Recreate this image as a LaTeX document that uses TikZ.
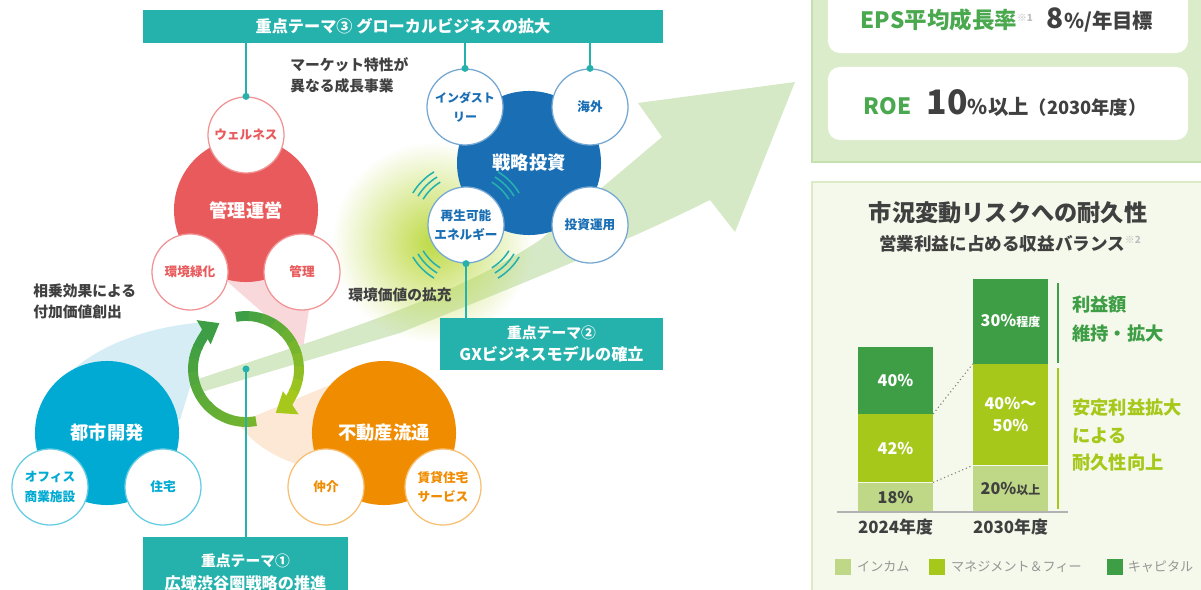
\documentclass[tikz,border=0pt]{standalone}
\usepackage{fontspec}
\setmainfont{Noto Sans CJK JP}
\usetikzlibrary{arrows.meta,calc,positioning,fadings}
\definecolor{themeColor}{RGB}{38,178,172}
\definecolor{mgmtColor}{RGB}{233,90,92}
\definecolor{mgmtLight}{RGB}{249,216,219}
\definecolor{investColor}{RGB}{25,110,180}
\definecolor{cityColor}{RGB}{0,170,210}
\definecolor{cityLight}{RGB}{214,237,246}
\definecolor{dealColor}{RGB}{240,140,0}
\definecolor{dealLight}{RGB}{252,232,212}
\definecolor{arrowColor}{RGB}{214,233,198}
\definecolor{glowColor}{RGB}{190,218,70}
\definecolor{capitalColor}{RGB}{61,158,69}
\definecolor{feeColor}{RGB}{166,200,26}
\definecolor{incomeColor}{RGB}{190,216,135}
\definecolor{textColor}{RGB}{64,64,64}
\definecolor{panelColor}{RGB}{219,236,203}
\definecolor{panelBorder}{RGB}{196,224,172}
\definecolor{chartColor}{RGB}{245,249,235}
\definecolor{chartBorder}{RGB}{220,235,198}
\definecolor{epsColor}{RGB}{74,168,78}
\definecolor{legendText}{RGB}{150,150,150}
\tikzfading[name=glowfade, inner color=transparent!0, outer color=transparent!100]
\tikzset{themebox/.style={fill=themeColor, text=white, font=\bfseries\fontsize{11.5}{16}\selectfont, align=center, inner sep=0pt}}
\tikzset{bizcircle/.style={circle, minimum size=3.6cm, inner sep=0pt, text=white, font=\bfseries\fontsize{13}{15}\selectfont}}
\tikzset{subcircle/.style={circle, fill=white, draw, line width=0.9pt, minimum size=1.9cm, inner sep=0pt, align=center, font=\bfseries\fontsize{9}{14}\selectfont}}
\tikzset{tealdot/.style={circle, fill=themeColor, minimum size=5pt, inner sep=0pt}}
\tikzset{themeline/.style={draw=themeColor, line width=0.9pt}}
\tikzset{notetext/.style={text=textColor, align=left, inner sep=0pt, font=\bfseries\fontsize{10.5}{15}\selectfont}}
\tikzset{cycleline/.style={line width=7pt}}
\tikzset{barpart/.style={minimum width=1.87cm, inner sep=0pt, text=white, align=center, font=\bfseries\fontsize{11.5}{16}\selectfont}}
\tikzset{legendbox/.style={minimum size=0.4cm, inner sep=0pt}}
\tikzset{legendtext/.style={text=legendText, inner sep=0pt, font=\fontsize{9.3}{11}\selectfont}}

\begin{document}
\begin{tikzpicture}[x=0.025cm, y=-0.025cm]
\useasboundingbox (0,0) rectangle (1201,590);
\clip (0,0) rectangle (1201,590);

% Background cones and growth arrow
\coordinate (hub) at (246,369);
\fill[mgmtLight] (303,348) -- (205,262) -- (320,240) -- cycle;
\fill[cityLight] (210,322) .. controls (150,325) and (100,345) .. (70,372) -- (180,420) -- cycle;
\fill[dealLight] (238,423) -- (330,385) -- (330,470) .. controls (290,468) and (255,448) .. (238,423) -- cycle;
\fill[arrowColor] (195,380) .. controls (330,335) and (450,300) .. (540,240) -- (662,137) -- (638,103) -- (795,82) -- (735,232) -- (710,200) .. controls (610,250) and (480,300) .. (400,333) -- (195,394) -- cycle;
\fill[glowColor, path fading=glowfade] (432,242) circle (100);

% Nodes
\node (banner3) [themebox, minimum width=13cm, minimum height=0.825cm] at (403,26.5) {重点テーマ③ グローカルビジネスの拡大};
\node (banner2) [themebox, minimum width=5.575cm, minimum height=1.3cm] at (551.5,344) {{\fontsize{10.5}{16}\selectfont 重点テーマ②}\\GXビジネスモデルの確立};
\node (banner1) [themebox, minimum width=5.125cm, minimum height=1.75cm, anchor=north] at (245.5,537) {{\fontsize{10.5}{16}\selectfont 重点テーマ①}\\広域渋谷圏戦略の推進};

\node (mgmt) [bizcircle, fill=mgmtColor] at (246,210) {管理運営};
\node (invest) [bizcircle, fill=investColor] at (529,163) {戦略投資};
\node (city) [bizcircle, fill=cityColor] at (107,433) {都市開発};
\node (deal) [bizcircle, fill=dealColor] at (384,433) {不動産流通};

\node (wellness) [subcircle, draw=mgmtColor!65, text=mgmtColor] at (246,135) {ウェルネス};
\node (greening) [subcircle, draw=mgmtColor!65, text=mgmtColor] at (190,272) {環境緑化};
\node (upkeep) [subcircle, draw=mgmtColor!65, text=mgmtColor] at (302,272) {管理};
\node (industry) [subcircle, draw=investColor!60, text=investColor, font=\bfseries\fontsize{8.5}{14}\selectfont] at (465,107) {インダスト\\リー};
\node (overseas) [subcircle, draw=investColor!60, text=investColor] at (590,107) {海外};
\node (renew) [subcircle, draw=investColor!60, text=investColor] at (466,225) {再生可能\\エネルギー};
\node (assetmgmt) [subcircle, draw=investColor!60, text=investColor] at (590,225) {投資運用};
\node (office) [subcircle, draw=cityColor!60, text=cityColor] at (50,487) {オフィス\\商業施設};
\node (housing) [subcircle, draw=cityColor!60, text=cityColor] at (163,487) {住宅};
\node (broker) [subcircle, draw=dealColor!55, text=dealColor] at (326,487) {仲介};
\node (rental) [subcircle, draw=dealColor!55, text=dealColor] at (443,487) {賃貸住宅\\サービス};

\node (market) [notetext, anchor=north west] at (290,57) {マーケット特性が\\異なる成長事業};
\node (synergy) [notetext, anchor=north west] at (33,284) {相乗効果による\\付加価値創出};
\node (envvalue) [notetext, anchor=west] at (348,295) {環境価値の拡充};

% Signal marks round the renewable energy circle
\foreach \ang in {45,135,225,315} {
  \foreach \r in {50,56,62} {
    \draw[themeColor, line width=1.1pt] ($(renew)+(\ang-14:\r)$) arc[start angle=\ang-14, end angle=\ang+14, radius=\r];
  }
}

% Cycle arrows
\foreach \i in {0,...,8} {
  \pgfmathtruncatemacro{\mix}{100-\i*11}
  \draw[cycleline, draw=capitalColor!\mix!feeColor] ($(hub)+(259+\i*14:53)$) arc[start angle=259+\i*14, end angle=274+\i*14, radius=53];
  \pgfmathtruncatemacro{\mixb}{45+\i*6}
  \draw[cycleline, draw=capitalColor!\mixb!feeColor] ($(hub)+(79+\i*14:53)$) arc[start angle=79+\i*14, end angle=94+\i*14, radius=53];
}
\draw[cycleline, feeColor, -{Triangle[width=19pt,length=13pt]}] ($(hub)+(384:53)$) arc[start angle=384, end angle=416, radius=53];
\draw[cycleline, capitalColor, -{Triangle[width=19pt,length=13pt]}] ($(hub)+(204:53)$) arc[start angle=204, end angle=240, radius=53];

% Connectors
\draw[themeline] (banner3.south -| wellness.north) -- (wellness.north) node[tealdot] {};
\draw[themeline] (banner3.south -| industry.north) -- (industry.north) node[tealdot] {};
\draw[themeline] (banner3.south -| overseas.north) -- (overseas.north) node[tealdot] {};
\draw[themeline] (renew.south) node[tealdot] {} -- (renew.south |- banner2.north);
\draw[themeline] (hub) node[tealdot] {} -- (hub |- banner1.north);

% Targets panel
\draw[panelBorder, fill=panelColor, line width=1pt] (812,-10) rectangle (1210,162);
\node (epsbox) [fill=white, rounded corners=0.3cm, minimum width=9cm, minimum height=1.85cm] at (1008,16) {};
\node (roebox) [fill=white, rounded corners=0.3cm, minimum width=9cm, minimum height=1.825cm] at (1008,103.5) {};
\node (eps) [inner sep=0pt, text=textColor, font=\bfseries\fontsize{14.5}{16}\selectfont] at (1007,20) {{\color{epsColor}\fontsize{16}{17}\selectfont EPS平均成長率}{\color{gray!50}\fontsize{7}{7}\selectfont\raisebox{1.4ex}{※1}}\hspace{10pt}{\fontsize{20}{21}\selectfont 8}\%/年目標};
\node (roe) [inner sep=0pt, text=textColor, font=\bfseries\fontsize{14.5}{16}\selectfont] at (1005,103) {{\color{epsColor}\fontsize{16}{17}\selectfont ROE}\hspace{11pt}{\fontsize{24}{25}\selectfont 10}\%以上{\fontsize{13}{14}\selectfont （2030年度）}};

% Chart panel
\draw[chartBorder, fill=chartColor, line width=1.5pt] (812,182) rectangle (1210,600);
\node (charttitle) [inner sep=0pt, text=textColor, font=\bfseries\fontsize{16.5}{18}\selectfont] at (1008,213) {市況変動リスクへの耐久性};
\node (chartsub) [inner sep=0pt, text=textColor, font=\bfseries\fontsize{12.5}{14}\selectfont] at (1010,244) {営業利益に占める収益バランス{\color{gray!50}\fontsize{7}{7}\selectfont\raisebox{1.3ex}{※2}}};

\node (inc24) [barpart, fill=incomeColor, text=textColor, minimum height=0.725cm, anchor=south] at (895.5,512) {18\%};
\node (fee24) [barpart, fill=feeColor, minimum height=1.7cm, above=0pt of inc24] {42\%};
\node (cap24) [barpart, fill=capitalColor, minimum height=1.675cm, above=0pt of fee24] {40\%};
\node (inc30) [barpart, fill=incomeColor, text=textColor, minimum height=1.15cm, anchor=south] at (1010.5,512) {20\%{\fontsize{8.5}{10}\selectfont 以上}};
\node (fee30) [barpart, fill=feeColor, minimum height=2.525cm, above=0pt of inc30] {40\%〜\\50\%};
\node (cap30) [barpart, fill=capitalColor, minimum height=2.125cm, above=0pt of fee30] {30\%{\fontsize{8.5}{10}\selectfont 程度}};
\draw[gray!60, line width=1pt] (837,512) -- (1068,512);
\node (year24) [inner sep=0pt, text=textColor, font=\bfseries\fontsize{12}{14}\selectfont, below=5pt of inc24] {2024年度};
\node (year30) [inner sep=0pt, text=textColor, font=\bfseries\fontsize{12}{14}\selectfont, below=5pt of inc30] {2030年度};
\draw[gray, dotted, line width=0.8pt] (fee24.north east) -- (fee30.north west);
\draw[gray, dotted, line width=0.8pt] (inc24.north east) -- (inc30.north west);

\draw[capitalColor, line width=1.5pt] (1058,283) -- (1058,363);
\draw[feeColor, line width=1.5pt] (1058,368) -- (1058,509);
\node (profitnote) [inner sep=0pt, anchor=north west, align=left, text=capitalColor, font=\bfseries\fontsize{13}{20}\selectfont] at (1072,296) {利益額\\維持・拡大};
\node (stablenote) [inner sep=0pt, anchor=north west, align=left, text=feeColor, font=\bfseries\fontsize{13}{19.3}\selectfont] at (1072,399) {安定利益拡大\\による\\耐久性向上};

% Legend
\node (lgInc) [legendbox, fill=incomeColor] at (843,567) {};
\node (lgIncText) [legendtext, right=4pt of lgInc] {インカム};
\node (lgFee) [legendbox, fill=feeColor] at (937,567) {};
\node (lgFeeText) [legendtext, right=4pt of lgFee] {マネジメント＆フィー};
\node (lgCap) [legendbox, fill=capitalColor] at (1115,567) {};
\node (lgCapText) [legendtext, right=3pt of lgCap] {キャピタル};

\end{tikzpicture}
\end{document}
